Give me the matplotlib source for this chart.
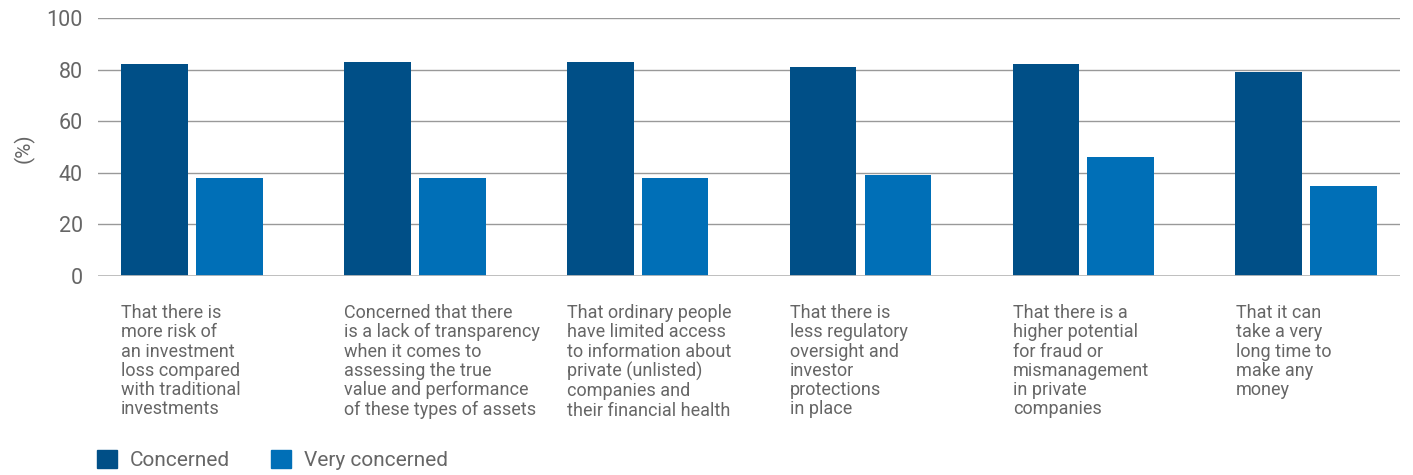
import numpy as np
from matplotlib import pyplot as plt
from matplotlib.patches import Patch
import matplotlib.transforms as mtransforms

plt.rcParams['font.family'] = ['Roboto', 'DejaVu Sans']

labels = [
    'That there is\nmore risk of\nan investment\nloss compared\nwith traditional\ninvestments',
    'Concerned that there\nis a lack of transparency\nwhen it comes to\nassessing the true\nvalue and performance\nof these types of assets',
    'That ordinary people\nhave limited access\nto information about\nprivate (unlisted)\ncompanies and\ntheir financial health',
    'That there is\nless regulatory\noversight and\ninvestor\nprotections\nin place',
    'That there is a\nhigher potential\nfor fraud or\nmismanagement\nin private\ncompanies',
    'That it can\ntake a very\nlong time to\nmake any\nmoney',
]
concerned = [82, 83, 83, 81, 82, 79]
very_concerned = [38, 38, 38, 39, 46, 35]

c_dark = '#004f87'
c_light = '#006fb7'
txt = '#666666'

fig = plt.figure(figsize=(14.13, 4.75), dpi=100)
ax = fig.add_axes([0.0694, 0.419, 0.9214, 0.543])

x = np.arange(len(labels))
w = 0.30
ax.bar(x - 0.168, concerned, w, color=c_dark, zorder=3)
ax.bar(x + 0.168, very_concerned, w, color=c_light, zorder=3)

ax.set_xlim(-0.42, 5.42)
ax.set_ylim(0, 100)
ax.set_yticks([0, 20, 40, 60, 80, 100])
ax.set_xticks([])
ax.grid(axis='y', color='#999999', linewidth=1, zorder=0)
ax.axhline(0, color='#bbbbbb', linewidth=2, zorder=4)
for s in ax.spines.values():
    s.set_visible(False)
ax.tick_params(axis='y', length=0, labelsize=15.5, labelcolor=txt, pad=11)
fig.text(24 / 1413, 1 - 148 / 475, '(%)', rotation=90, ha='center', va='center',
         fontsize=15, color=txt)

# category labels below each group, left aligned with the first bar
trans = mtransforms.blended_transform_factory(ax.transData, fig.transFigure)
for i, lab in enumerate(labels):
    ax.text(i - 0.316, 1 - 304 / 475, lab, transform=trans, ha='left', va='top',
            fontsize=13.0, color=txt, linespacing=1.09)

handles = [Patch(color=c_dark, label='Concerned'), Patch(color=c_light, label='Very concerned')]
fig.legend(handles=handles, loc='center left', bbox_to_anchor=(97 / 1413, 1 - 460 / 475), ncol=2,
           frameon=False, fontsize=15, labelcolor=txt, handlelength=0.96, handleheight=0.96,
           handletextpad=0.63, columnspacing=1.97, borderpad=0, borderaxespad=0)

fig.savefig('out.png', dpi=100)
